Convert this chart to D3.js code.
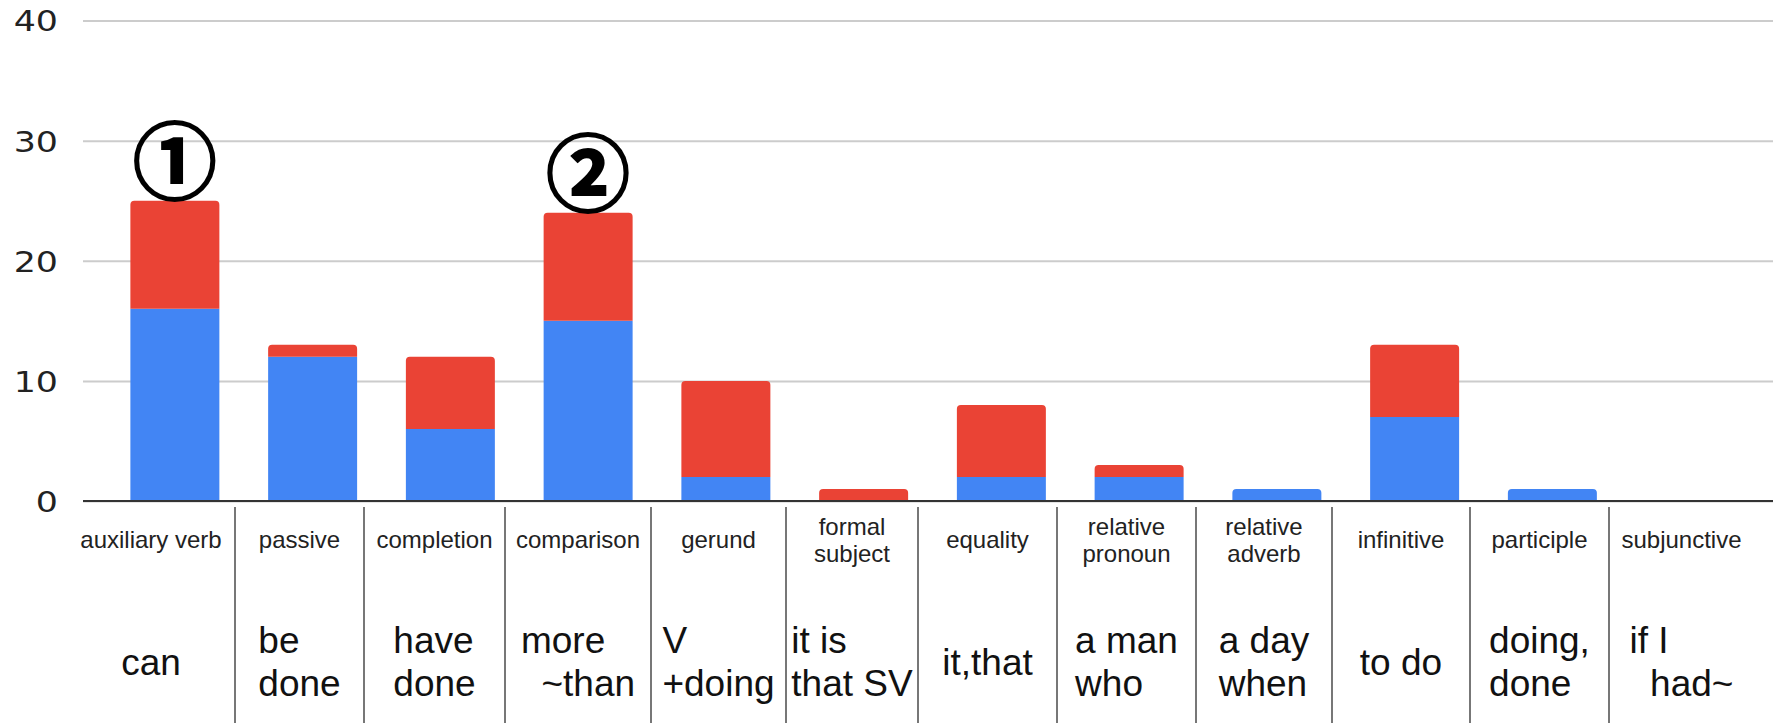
<!DOCTYPE html>
<html>
<head>
<meta charset="utf-8">
<script src="https://cdn.jsdelivr.net/npm/d3@7"></script>
<style>
  body { margin: 0; background: #fff; }
  svg { display: block; }
  .ylab { font-family: "DejaVu Sans", sans-serif; font-size: 29px; fill: #222; }
  .cat { font-family: "Liberation Sans", Arial, sans-serif; font-size: 24px; fill: #222; }
  .ex { font-family: "Liberation Sans", Arial, sans-serif; font-size: 37px; fill: #111; white-space: pre; }
  .mark { font-family: "Noto Sans CJK JP", sans-serif; font-size: 84px; font-weight: 700; fill: #000;
          stroke: #000; stroke-width: 2px; }
</style>
</head>
<body>
<svg id="chart"></svg>
<script>
var categories = ["auxiliary verb", "passive", "completion", "comparison", "gerund", "formal\nsubject",
                  "equality", "relative\npronoun", "relative\nadverb", "infinitive", "participle", "subjunctive"];
var blueValues = [16, 12, 6, 15, 2, 0, 2, 2, 1, 7, 1, 0];
var redValues  = [9, 1, 6, 9, 8, 1, 6, 1, 0, 6, 0, 0];
var examples = ["can", "be\ndone", "have\ndone", "more\n  ~than", "V\n+doing", "it is\nthat SV",
                "it,that", "a man\nwho", "a day\nwhen", "to do", "doing,\ndone", "if I\n  had~"];
var yTicks = [0, 10, 20, 30, 40];
var marks = [["auxiliary verb", "①"], ["comparison", "②"]];

// table layout below the chart (column borders of the pasted table)
var colEdges = [67, 235, 364, 505, 651, 786, 918, 1057, 1196, 1332, 1470, 1609, 1754];

var width = 1773, height = 723;

var svg = d3.select('#chart')
    .attr('width', width)
    .attr('height', height);

var y = d3.scaleLinear().domain([0, 40]).range([501, 20.5]);
var x = d3.scaleBand().domain(categories).range([106, 1759])
    .paddingInner(0.354).paddingOuter(0.177);

// gridlines + labels
var yAxis = d3.axisLeft(y).tickValues(yTicks).tickSize(-(width - 83)).tickFormat(d3.format('d'));
var ga = svg.append('g')
    .attr('transform', 'translate(83,0)')
    .call(yAxis);
ga.select('.domain').remove();
ga.selectAll('.tick line').attr('stroke', '#cccccc').attr('stroke-width', 2);
ga.selectAll('.tick text')
    .attr('class', 'ylab')
    .attr('x', 0)
    .attr('dy', '0.36em')
    .attr('fill', null)
    .attr('transform', 'translate(-25,0) scale(1.2,1)');

// rounded-top bar path
function barPath(x0, w, yTop, yBot, r) {
  r = Math.min(r, (yBot - yTop));
  return 'M' + x0 + ',' + yBot +
    'V' + (yTop + r) +
    'Q' + x0 + ',' + yTop + ' ' + (x0 + r) + ',' + yTop +
    'H' + (x0 + w - r) +
    'Q' + (x0 + w) + ',' + yTop + ' ' + (x0 + w) + ',' + (yTop + r) +
    'V' + yBot + 'Z';
}

var stacked = categories.map(function(c, i) {
  return { cat: c, blue: blueValues[i], red: redValues[i] };
});

var bars = svg.append('g').selectAll('g')
    .data(stacked)
  .enter().append('g');

bars.filter(function(d) { return d.blue > 0; })
  .append('path')
    .attr('fill', '#4285F4')
    .attr('d', function(d) {
      var r = d.red > 0 ? 0 : 4;
      return barPath(x(d.cat), x.bandwidth(), y(d.blue), y(0), r);
    });

bars.filter(function(d) { return d.red > 0; })
  .append('path')
    .attr('fill', '#EA4335')
    .attr('d', function(d) {
      return barPath(x(d.cat), x.bandwidth(), y(d.blue + d.red), y(d.blue), 4);
    });

// baseline
svg.append('line')
    .attr('x1', 83).attr('x2', width)
    .attr('y1', y(0)).attr('y2', y(0))
    .attr('stroke', '#333').attr('stroke-width', 2);

// circled markers
svg.append('g').selectAll('text')
    .data(marks)
  .enter().append('text')
    .attr('class', 'mark')
    .attr('text-anchor', 'middle')
    .attr('dominant-baseline', 'central')
    .attr('x', function(d) { return x(d[0]) + x.bandwidth() / 2; })
    .attr('y', function(d) {
      var i = categories.indexOf(d[0]);
      return y(blueValues[i] + redValues[i]) - 44;
    })
    .text(function(d) { return d[1]; });

// table separators
svg.append('g').selectAll('line')
    .data(colEdges.slice(1, -1))
  .enter().append('line')
    .attr('x1', function(d) { return d; }).attr('x2', function(d) { return d; })
    .attr('y1', 507).attr('y2', height)
    .attr('stroke', '#777').attr('stroke-width', 2);

function colCenter(i) { return (colEdges[i] + colEdges[i + 1]) / 2; }

// category row
categories.forEach(function(c, i) {
  var lines = c.split('\n');
  var t = svg.append('text')
      .attr('class', 'cat')
      .attr('text-anchor', 'middle');
  lines.forEach(function(l, k) {
    t.append('tspan')
      .attr('x', colCenter(i))
      .attr('y', 540 + (k - (lines.length - 1) / 2) * 27)
      .attr('dy', '0.35em')
      .text(l);
  });
});

// example row: left-aligned lines, block centred in column
examples.forEach(function(e, i) {
  var lines = e.split('\n');
  var g = svg.append('g');
  var ts = lines.map(function(l, k) {
    return g.append('text')
      .attr('class', 'ex')
      .attr('y', 662 + (k - (lines.length - 1) / 2) * 43)
      .attr('dy', '0.35em')
      .text(l);
  });
  var maxW = d3.max(ts, function(t) { return t.node().getComputedTextLength(); });
  ts.forEach(function(t) { t.attr('x', colCenter(i) - maxW / 2); });
});
</script>
</body>
</html>
